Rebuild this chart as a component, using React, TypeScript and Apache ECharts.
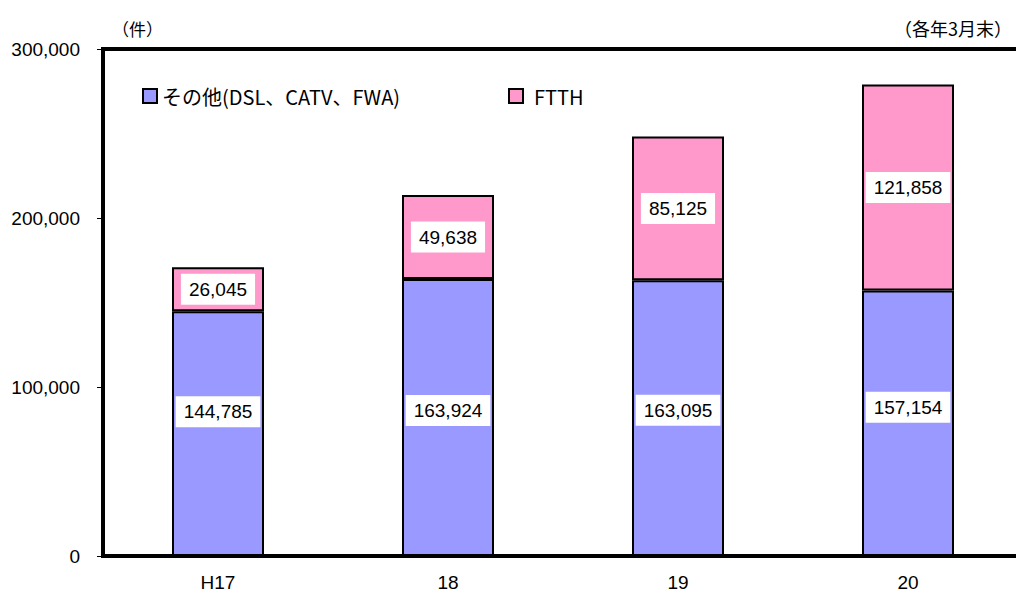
import React, { useEffect, useRef } from "react";
import * as echarts from "echarts";

const categories = ["H17", "18", "19", "20"];
const otherName = "その他(DSL、CATV、FWA)";
const ftthName = "FTTH";
const otherValues = [144785, 163924, 163095, 157154];
const ftthValues = [26045, 49638, 85125, 121858];
const yTicks = [0, 100000, 200000, 300000];
const otherLabelOffsets = [-22, -7, -8, -16];

const numFont = "Liberation Sans, Arial, sans-serif";
const jpFont = "Noto Sans CJK JP, sans-serif";

function fmt(v: number) {
  return v.toLocaleString("en-US");
}

export default function App() {
  const ref = useRef<HTMLDivElement>(null);
  useEffect(() => {
    if (!ref.current) return;
    const chart = echarts.init(ref.current, null, { renderer: "svg" });
    const labelStyle = {
      show: true,
      position: "inside",
      color: "#000",
      fontSize: 19,
      fontFamily: numFont,
      backgroundColor: "#fff",
      padding: [6, 8],
      formatter: (p: any) => fmt(p.value),
    };
    chart.setOption({
      animation: false,
      backgroundColor: "#fff",
      grid: {
        left: 103,
        top: 49,
        width: 920,
        height: 508,
        show: true,
        borderColor: "#000",
        borderWidth: 4,
        backgroundColor: "transparent",
      },
      legend: [
        {
          data: [otherName],
          left: 142,
          top: 86,
          padding: 0,
          icon: "rect",
          itemWidth: 14,
          itemHeight: 14,
          itemGap: 6,
          textStyle: { fontSize: 20, fontFamily: jpFont, color: "#000" },
        },
        {
          data: [ftthName],
          left: 508,
          top: 86,
          padding: 0,
          icon: "rect",
          itemWidth: 14,
          itemHeight: 14,
          textStyle: { fontSize: 20, fontFamily: jpFont, color: "#000", padding: [0, 0, 0, 6] },
        },
      ],
      xAxis: {
        type: "category",
        data: categories,
        axisLine: { show: false },
        axisTick: { show: false },
        axisLabel: { color: "#000", fontSize: 19, fontFamily: numFont, margin: 17 },
      },
      yAxis: {
        type: "value",
        min: yTicks[0],
        max: yTicks[yTicks.length - 1],
        interval: yTicks[1] - yTicks[0],
        axisLine: { show: false },
        axisTick: { show: true, length: 6, lineStyle: { color: "#000", width: 1 } },
        splitLine: { show: false },
        axisLabel: {
          color: "#000",
          fontSize: 19,
          fontFamily: numFont,
          margin: 23,
          formatter: (v: number) => fmt(v),
        },
      },
      series: [
        {
          name: otherName,
          type: "bar",
          stack: "total",
          barWidth: 92,
          data: otherValues.map((v, i) => ({
            value: v,
            label: { offset: [0, otherLabelOffsets[i]] },
          })),
          itemStyle: { color: "#9999FF", borderColor: "#000", borderWidth: 2 },
          label: labelStyle,
        },
        {
          name: ftthName,
          type: "bar",
          stack: "total",
          barWidth: 92,
          data: ftthValues,
          itemStyle: { color: "#FF99CC", borderColor: "#000", borderWidth: 2 },
          label: labelStyle,
        },
      ],
      graphic: [
        {
          type: "text",
          x: 112,
          y: 28,
          style: {
            text: "（件）",
            font: `17px ${jpFont}`,
            fill: "#000",
            textAlign: "left",
            textVerticalAlign: "middle",
          },
        },
        {
          type: "text",
          x: 1012,
          y: 28,
          style: {
            text: "（各年3月末）",
            font: `18px ${jpFont}`,
            fill: "#000",
            textAlign: "right",
            textVerticalAlign: "middle",
          },
        },
      ],
    });
    return () => chart.dispose();
  }, []);
  return (
    <div
      style={{
        position: "absolute",
        left: 0,
        top: 0,
        width: 1016,
        height: 592,
        overflow: "hidden",
      }}
    >
      <div ref={ref} style={{ width: 1040, height: 592 }} />
    </div>
  );
}
